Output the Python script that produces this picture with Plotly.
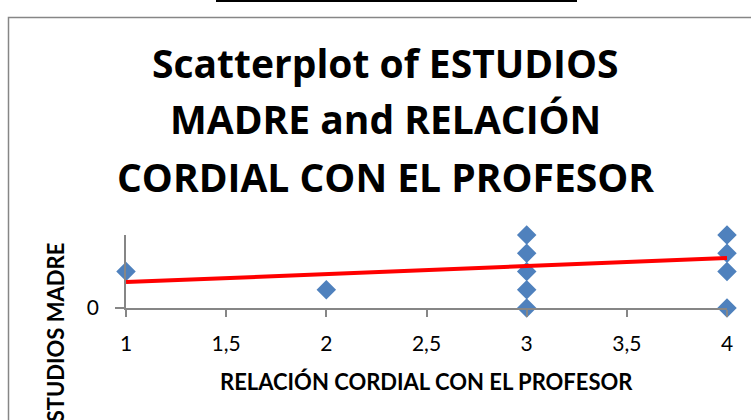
import plotly.graph_objects as go

# Data
relacion = [1, 2, 3, 3, 3, 3, 3, 4, 4, 4, 4]
estudios = [2, 1, 0, 1, 2, 3, 4, 0, 2, 3, 4]
trend_x = [1, 4]
trend_y = [1.42, 2.74]
x_ticks = [1, 1.5, 2, 2.5, 3, 3.5, 4]
x_tick_text = ["1", "1,5", "2", "2,5", "3", "3,5", "4"]
y_ticks = [0]
y_tick_text = ["0"]
title_lines = ["Scatterplot of ESTUDIOS", "MADRE and RELACIÓN", "CORDIAL CON EL PROFESOR"]
x_title = "RELACIÓN CORDIAL CON EL PROFESOR"
y_title = "ESTUDIOS MADRE"

W, H = 751, 420
L, R, T, B = 126, 24, 235, 112
PW, PH = W - L - R, H - T - B


def px_x(p):
    return (p - L) / PW


def px_y(p):
    return (H - B - p) / PH


FONT = "Lato"
TITLE_FONT = "Open Sans"
GRAY = "#868686"

fig = go.Figure()
fig.add_trace(go.Scatter(
    x=relacion, y=estudios, mode="markers",
    marker=dict(symbol="diamond", size=15, color="#4F81BD", line=dict(width=0)),
    cliponaxis=False, showlegend=False, hoverinfo="x+y"))
fig.add_trace(go.Scatter(
    x=trend_x, y=trend_y, mode="lines",
    line=dict(color="#FF0000", width=4),
    cliponaxis=False, showlegend=False))

annotations = []
for line, py in zip(title_lines, [62, 119, 176]):
    annotations.append(dict(
        text=f"<b>{line}</b>", x=px_x(385), y=px_y(py), xref="paper", yref="paper",
        xanchor="center", yanchor="middle", showarrow=False,
        font=dict(family=TITLE_FONT, size=39, color="#000000")))
annotations.append(dict(
    text=f"<b>{x_title}</b>", x=px_x(426), y=px_y(381), xref="paper", yref="paper",
    xanchor="center", yanchor="middle", showarrow=False,
    font=dict(family=FONT, size=22, color="#000000")))
annotations.append(dict(
    text=f"<b>{y_title}</b>", x=px_x(55), y=px_y(241), xref="paper", yref="paper",
    xanchor="center", yanchor="top", showarrow=False, textangle=-90,
    font=dict(family=FONT, size=22, color="#000000")))

shapes = [
    # chart-area border (extends past the cropped edges)
    dict(type="path", xref="paper", yref="paper",
         path=f"M {px_x(8.5)},{px_y(440)} L {px_x(8.5)},{px_y(17.5)} L {px_x(770)},{px_y(17.5)}",
         line=dict(color=GRAY, width=1.5)),
    # fragment of a table above the chart
    dict(type="line", xref="paper", yref="paper", x0=px_x(217), x1=px_x(576),
         y0=px_y(1), y1=px_y(1), line=dict(color="#000000", width=2)),
    dict(type="line", xref="paper", yref="paper", x0=px_x(217), x1=px_x(217),
         y0=px_y(-5), y1=px_y(2), line=dict(color="#000000", width=2)),
    dict(type="line", xref="paper", yref="paper", x0=px_x(481), x1=px_x(481),
         y0=px_y(-5), y1=px_y(2), line=dict(color="#000000", width=1.5)),
    dict(type="line", xref="paper", yref="paper", x0=px_x(576), x1=px_x(576),
         y0=px_y(-5), y1=px_y(2), line=dict(color="#000000", width=2)),
]

fig.update_layout(
    width=W, height=H,
    margin=dict(l=L, r=R, t=T, b=B, pad=0),
    paper_bgcolor="white", plot_bgcolor="white",
    annotations=annotations, shapes=shapes,
    xaxis=dict(range=[1, 4], tickvals=x_ticks, ticktext=x_tick_text,
               showgrid=False, zeroline=False, showline=True, linecolor=GRAY, linewidth=1.5,
               ticks="outside", ticklen=7, tickwidth=1.5, tickcolor=GRAY,
               ticklabelstandoff=9,
               tickfont=dict(family=FONT, size=21, color="#000000")),
    yaxis=dict(range=[0, 4], tickvals=y_ticks, ticktext=y_tick_text,
               showgrid=False, zeroline=False, showline=True, linecolor=GRAY, linewidth=1.5,
               ticks="outside", ticklen=9, tickwidth=1.5, tickcolor=GRAY,
               ticklabelstandoff=12,
               tickfont=dict(family=FONT, size=21, color="#000000")),
)

fig.write_html(
    "out.html",
    config={"displayModeBar": False},
    post_script="document.body.style.margin='0';document.body.style.overflow='hidden';",
)
